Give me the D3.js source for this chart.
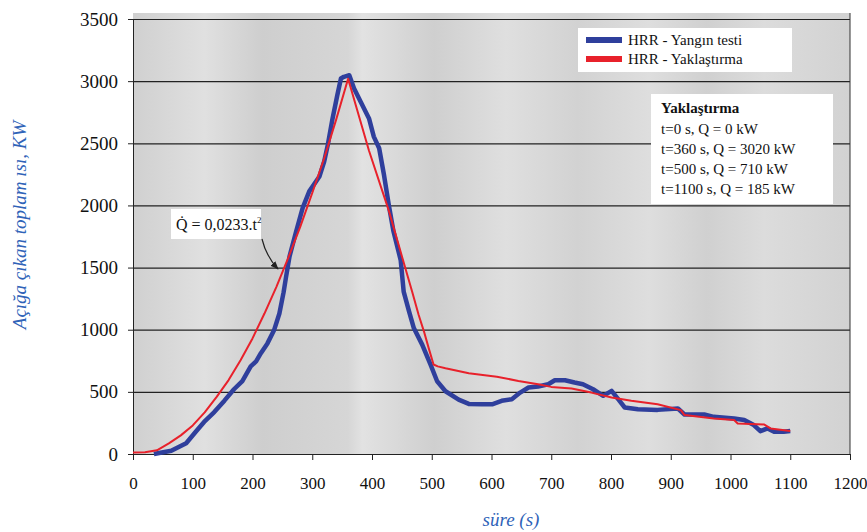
<!DOCTYPE html>
<html>
<head>
<meta charset="utf-8">
<script src="https://cdn.jsdelivr.net/npm/d3@7"></script>
<style>
  body { margin: 0; background: #fff; }
  svg, svg text, svg .tick text { font-family: "Liberation Serif", serif !important; }
</style>
</head>
<body>
<div class="chart"></div>
<script>
// test curve (blue)
var testT = [35, 64, 89, 105, 119, 136, 153, 169, 183, 197, 206, 214, 225, 236, 245, 252, 256, 262, 273, 284, 295, 312, 320, 326, 334, 342, 348, 353, 362, 370, 381, 395, 403, 412, 420, 428, 436, 448, 453, 462, 470, 484, 498, 509, 523, 545, 562, 584, 601, 617, 634, 648, 662, 678, 695, 706, 723, 739, 753, 770, 787, 801, 812, 823, 845, 878, 912, 923, 956, 972, 1006, 1023, 1039, 1050, 1062, 1073, 1089, 1100];
var testQ = [0, 26, 87, 179, 258, 337, 429, 521, 587, 705, 745, 811, 890, 995, 1130, 1300, 1420, 1590, 1790, 1980, 2113, 2233, 2353, 2487, 2700, 2888, 3021, 3035, 3048, 2940, 2834, 2700, 2554, 2460, 2247, 2006, 1790, 1560, 1307, 1147, 1013, 880, 719, 585, 505, 438, 403, 400, 400, 428, 441, 494, 535, 543, 561, 593, 593, 575, 561, 521, 468, 508, 441, 374, 360, 355, 366, 318, 318, 299, 286, 273, 233, 184, 206, 179, 179, 185];

// approximation curve (red)
var fitT = [0, 20, 40, 60, 80, 100, 120, 140, 160, 180, 200, 220, 240, 260, 280, 300, 320, 340, 360, 395, 428, 451, 467, 478, 487, 495, 503, 510, 523, 562, 609, 645, 678, 700, 734, 767, 801, 834, 878, 917, 923, 972, 1006, 1012, 1056, 1067, 1100];
var fitQ = [12, 14, 30, 85, 150, 230, 335, 460, 595, 755, 930, 1130, 1345, 1580, 1830, 2100, 2380, 2690, 3020, 2440, 1960, 1575, 1310, 1120, 985, 850, 720, 705, 690, 650, 622, 588, 561, 540, 527, 494, 454, 428, 400, 353, 313, 286, 273, 246, 238, 206, 185];

var xTicks = [0, 100, 200, 300, 400, 500, 600, 700, 800, 900, 1000, 1100, 1200];
var yTicks = [0, 500, 1000, 1500, 2000, 2500, 3000, 3500];

var seriesNames = ["HRR - Yangın testi", "HRR - Yaklaştırma"];
var noteTitle = "Yaklaştırma";
var noteLines = ["t=0 s, Q = 0 kW", "t=360 s, Q = 3020 kW", "t=500 s, Q = 710 kW", "t=1100 s, Q = 185 kW"];

var svgWidth = 867;
var svgHeight = 532;
var margin = { top: 19, right: 17, bottom: 78, left: 133 };
var width = svgWidth - margin.left - margin.right;
var height = svgHeight - margin.top - margin.bottom;

var blue = "#2f3f9c";
var red = "#e8212b";
var labelBlue = "#2f63b8";

var svg = d3.select(".chart")
    .append("svg")
    .attr("width", svgWidth)
    .attr("height", svgHeight);

// scanned-paper look for the plot area
var grad = svg.append("defs").append("linearGradient")
    .attr("id", "paper")
    .attr("x1", "0").attr("x2", "1").attr("y1", "0").attr("y2", "0");
[[0, "#d0d0d0"], [0.1, "#e0e0e0"], [0.18, "#cecece"], [0.3, "#d6d6d6"], [0.32, "#e2e2e2"],
 [0.42, "#cfcfcf"], [0.52, "#dfdfdf"], [0.62, "#d2d2d2"], [0.72, "#dedede"], [0.8, "#d0d0d0"],
 [0.88, "#dcdcdc"], [1, "#d2d2d2"]].forEach(function(s) {
    grad.append("stop").attr("offset", s[0]).attr("stop-color", s[1]);
});

var chartGroup = svg.append("g")
    .attr("transform", `translate(${margin.left}, ${margin.top})`);

var xScale = d3.scaleLinear().domain([0, 1200]).range([0, width]);
var yScale = d3.scaleLinear().domain([0, 3500]).range([height, 0]);

chartGroup.append("rect")
    .attr("x", 0).attr("y", -6)
    .attr("width", width).attr("height", height + 6)
    .attr("fill", "url(#paper)");

// gridlines
chartGroup.append("g")
    .call(d3.axisLeft(yScale).tickValues(yTicks.slice(1)).tickSize(-width).tickFormat(""))
    .call(g => g.select(".domain").remove())
    .selectAll("line")
    .attr("stroke", "#2a2a2a")
    .attr("stroke-width", 1.2);

// right edge
chartGroup.append("line")
    .attr("x1", width).attr("x2", width)
    .attr("y1", -6).attr("y2", height)
    .attr("stroke", "#333");

// axes
var botAxis = d3.axisBottom(xScale).tickValues(xTicks).tickFormat(d3.format("d")).tickSize(6).tickPadding(17);
var leftAxis = d3.axisLeft(yScale).tickValues(yTicks).tickFormat(d3.format("d")).tickSize(5).tickPadding(10);

chartGroup.append("g")
    .attr("transform", `translate(0, ${height})`)
    .call(botAxis)
    .attr("font-size", 17);

chartGroup.append("g")
    .call(leftAxis)
    .attr("font-size", 19);

chartGroup.selectAll(".tick text").attr("fill", "#111");
chartGroup.selectAll(".domain, .tick line").attr("stroke", "#222");

// curves
var testData = testT.map((t, i) => ({ t: t, q: testQ[i] }));
var fitData = fitT.map((t, i) => ({ t: t, q: fitQ[i] }));

var line = d3.line()
    .x(d => xScale(d.t))
    .y(d => yScale(d.q));

chartGroup.append("path")
    .datum(testData)
    .attr("d", line)
    .attr("fill", "none")
    .attr("stroke", blue)
    .attr("stroke-width", 4.5)
    .attr("stroke-linejoin", "round");

chartGroup.append("path")
    .datum(fitData)
    .attr("d", line)
    .attr("fill", "none")
    .attr("stroke", red)
    .attr("stroke-width", 2)
    .attr("stroke-linejoin", "round");

// legend
var legend = svg.append("g").attr("transform", "translate(578, 28)");
legend.append("rect")
    .attr("width", 214).attr("height", 44)
    .attr("fill", "#fff");
[blue, red].forEach(function(c, i) {
    legend.append("line")
        .attr("x1", 8).attr("x2", 44)
        .attr("y1", 12 + i * 19).attr("y2", 12 + i * 19)
        .attr("stroke", c)
        .attr("stroke-width", 6);
    legend.append("text")
        .attr("x", 50).attr("y", 17 + i * 19)
        .attr("font-size", 15)
        .attr("fill", "#111")
        .text(seriesNames[i]);
});

// approximation notes
var note = svg.append("g").attr("transform", "translate(651, 94)");
note.append("rect")
    .attr("width", 182).attr("height", 110)
    .attr("fill", "#fff");
note.append("text")
    .attr("x", 10).attr("y", 19)
    .attr("font-size", 15)
    .attr("font-weight", "bold")
    .attr("fill", "#111")
    .text(noteTitle);
noteLines.forEach(function(s, i) {
    note.append("text")
        .attr("x", 10).attr("y", 40 + i * 20)
        .attr("font-size", 15)
        .attr("fill", "#111")
        .text(s);
});

// equation label with arrow
svg.append("defs").append("marker")
    .attr("id", "arrow")
    .attr("viewBox", "0 0 10 10")
    .attr("refX", 9).attr("refY", 5)
    .attr("markerWidth", 7).attr("markerHeight", 7)
    .attr("orient", "auto")
    .append("path")
    .attr("d", "M0,1 L10,5 L0,9 Z")
    .attr("fill", "#222");

svg.append("rect")
    .attr("x", 171).attr("y", 209)
    .attr("width", 90).attr("height", 30)
    .attr("fill", "#fff");
var eq = svg.append("text")
    .attr("x", 176).attr("y", 230)
    .attr("font-size", 16)
    .attr("fill", "#111");
eq.append("tspan").text("Q\u0307 = 0,0233.t");
eq.append("tspan").attr("dy", -7).attr("font-size", 9).text("2");

svg.append("path")
    .attr("d", "M262,239 Q266,256 278,269")
    .attr("fill", "none")
    .attr("stroke", "#222")
    .attr("stroke-width", 1.2)
    .attr("marker-end", "url(#arrow)");

// axis titles
svg.append("text")
    .attr("transform", "translate(26, 225) rotate(-90)")
    .attr("text-anchor", "middle")
    .attr("font-size", 19)
    .attr("font-style", "italic")
    .attr("fill", labelBlue)
    .text("Açığa çıkan toplam ısı, KW");

svg.append("text")
    .attr("x", 511).attr("y", 526)
    .attr("text-anchor", "middle")
    .attr("font-size", 19)
    .attr("font-style", "italic")
    .attr("fill", labelBlue)
    .text("süre (s)");
</script>
</body>
</html>
